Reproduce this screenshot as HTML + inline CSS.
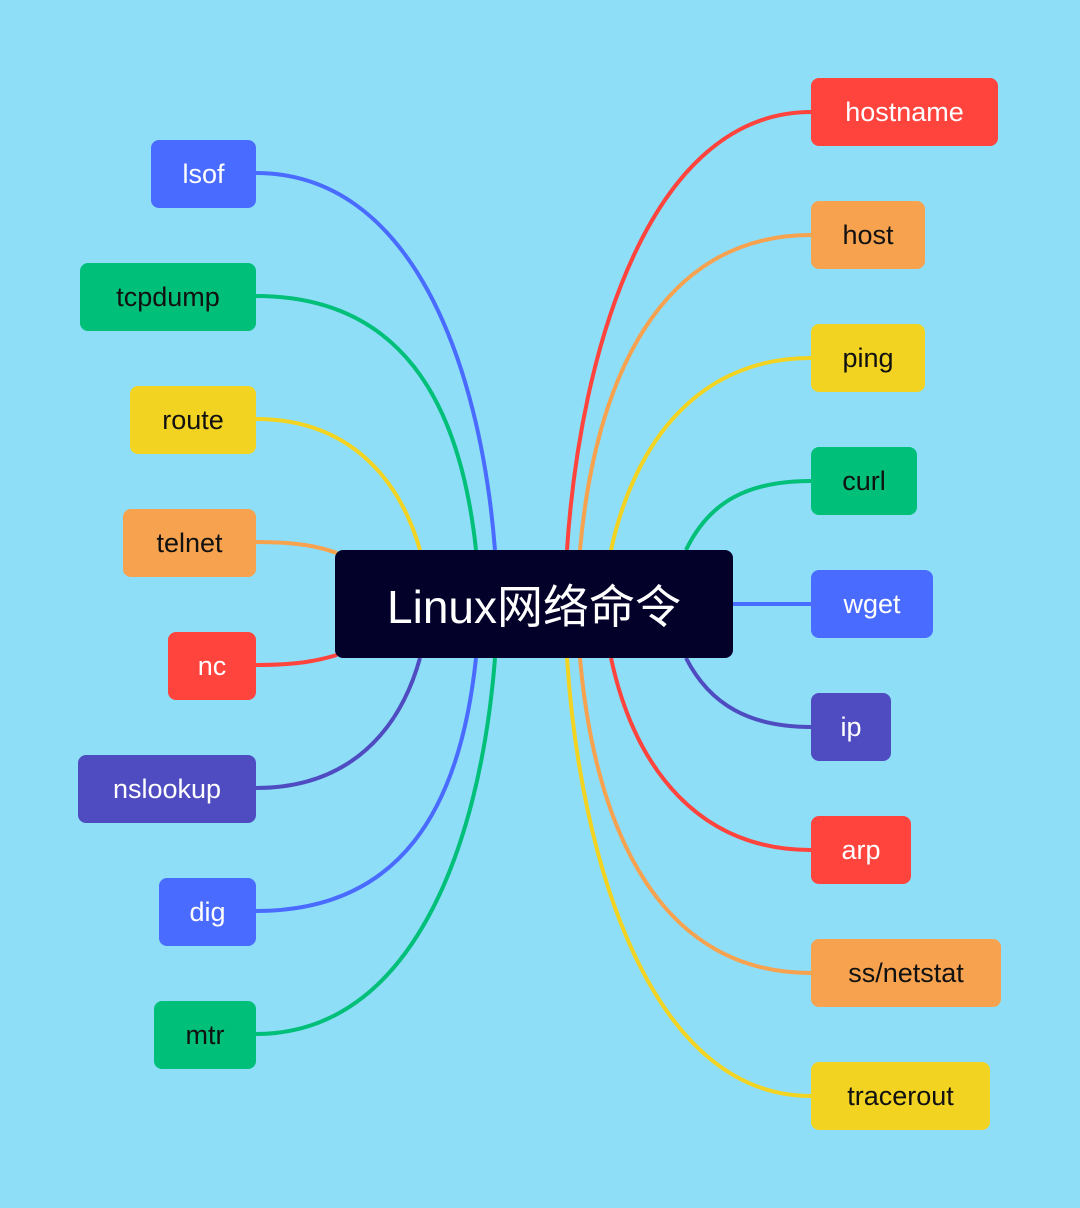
<!DOCTYPE html>
<html><head><meta charset="utf-8"><style>
html,body{margin:0;padding:0}
body{width:1080px;height:1208px;background:#8EDEF8;position:relative;overflow:hidden;font-family:"Liberation Sans","Noto Sans CJK SC",sans-serif}
.n{position:absolute;height:68px;border-radius:8px;display:flex;align-items:center;justify-content:center;font-size:27px;box-sizing:border-box}
svg{position:absolute;left:0;top:0}
</style></head><body>
<svg width="1080" height="1208" fill="none" stroke-width="4">
<path d="M256,173 C410,173 480,360 495,550" stroke="#4A6BFF"/>
<path d="M256,296 C400,296 460,400 476,550" stroke="#00BF78"/>
<path d="M256,419 C350,419 400,480 420,550" stroke="#F2D321"/>
<path d="M256,542 C300,542 320,547 337,553" stroke="#F7A24F"/>
<path d="M256,665 C300,665 320,660 337,655" stroke="#FF433D"/>
<path d="M256,788 C350,788 400,730 420,658" stroke="#4F4CC2"/>
<path d="M256,911 C400,911 460,810 476,658" stroke="#4A6BFF"/>
<path d="M256,1034 C410,1034 480,850 495,658" stroke="#00BF78"/>
<path d="M811,112 C650,112 580,350 567,550" stroke="#FF433D"/>
<path d="M811,235 C660,235 595,380 580,550" stroke="#F7A24F"/>
<path d="M811,358 C700,358 635,440 611,550" stroke="#F2D321"/>
<path d="M811,481 C750,481 710,500 686,550" stroke="#00BF78"/>
<path d="M733,604 L811,604" stroke="#4A6BFF"/>
<path d="M811,727 C750,727 710,705 686,658" stroke="#4F4CC2"/>
<path d="M811,850 C700,850 635,770 611,658" stroke="#FF433D"/>
<path d="M811,973 C660,973 595,830 580,658" stroke="#F7A24F"/>
<path d="M811,1096 C650,1096 580,860 567,658" stroke="#F2D321"/>
</svg>
<div class="n" style="left:335px;top:550px;width:398px;height:108px;background:#03002A;color:#fff;font-size:46px">Linux网络命令</div>
<div class="n" style="left:151px;top:140px;width:105px;background:#4A6BFF;color:#fff">lsof</div>
<div class="n" style="left:80px;top:263px;width:176px;background:#00BF78;color:#111">tcpdump</div>
<div class="n" style="left:130px;top:386px;width:126px;background:#F2D321;color:#111">route</div>
<div class="n" style="left:123px;top:509px;width:133px;background:#F7A24F;color:#111">telnet</div>
<div class="n" style="left:168px;top:632px;width:88px;background:#FF433D;color:#fff">nc</div>
<div class="n" style="left:78px;top:755px;width:178px;background:#4F4CC2;color:#fff">nslookup</div>
<div class="n" style="left:159px;top:878px;width:97px;background:#4A6BFF;color:#fff">dig</div>
<div class="n" style="left:154px;top:1001px;width:102px;background:#00BF78;color:#111">mtr</div>
<div class="n" style="left:811px;top:78px;width:187px;background:#FF433D;color:#fff">hostname</div>
<div class="n" style="left:811px;top:201px;width:114px;background:#F7A24F;color:#111">host</div>
<div class="n" style="left:811px;top:324px;width:114px;background:#F2D321;color:#111">ping</div>
<div class="n" style="left:811px;top:447px;width:106px;background:#00BF78;color:#111">curl</div>
<div class="n" style="left:811px;top:570px;width:122px;background:#4A6BFF;color:#fff">wget</div>
<div class="n" style="left:811px;top:693px;width:80px;background:#4F4CC2;color:#fff">ip</div>
<div class="n" style="left:811px;top:816px;width:100px;background:#FF433D;color:#fff">arp</div>
<div class="n" style="left:811px;top:939px;width:190px;background:#F7A24F;color:#111">ss/netstat</div>
<div class="n" style="left:811px;top:1062px;width:179px;background:#F2D321;color:#111">tracerout</div>
</body></html>
